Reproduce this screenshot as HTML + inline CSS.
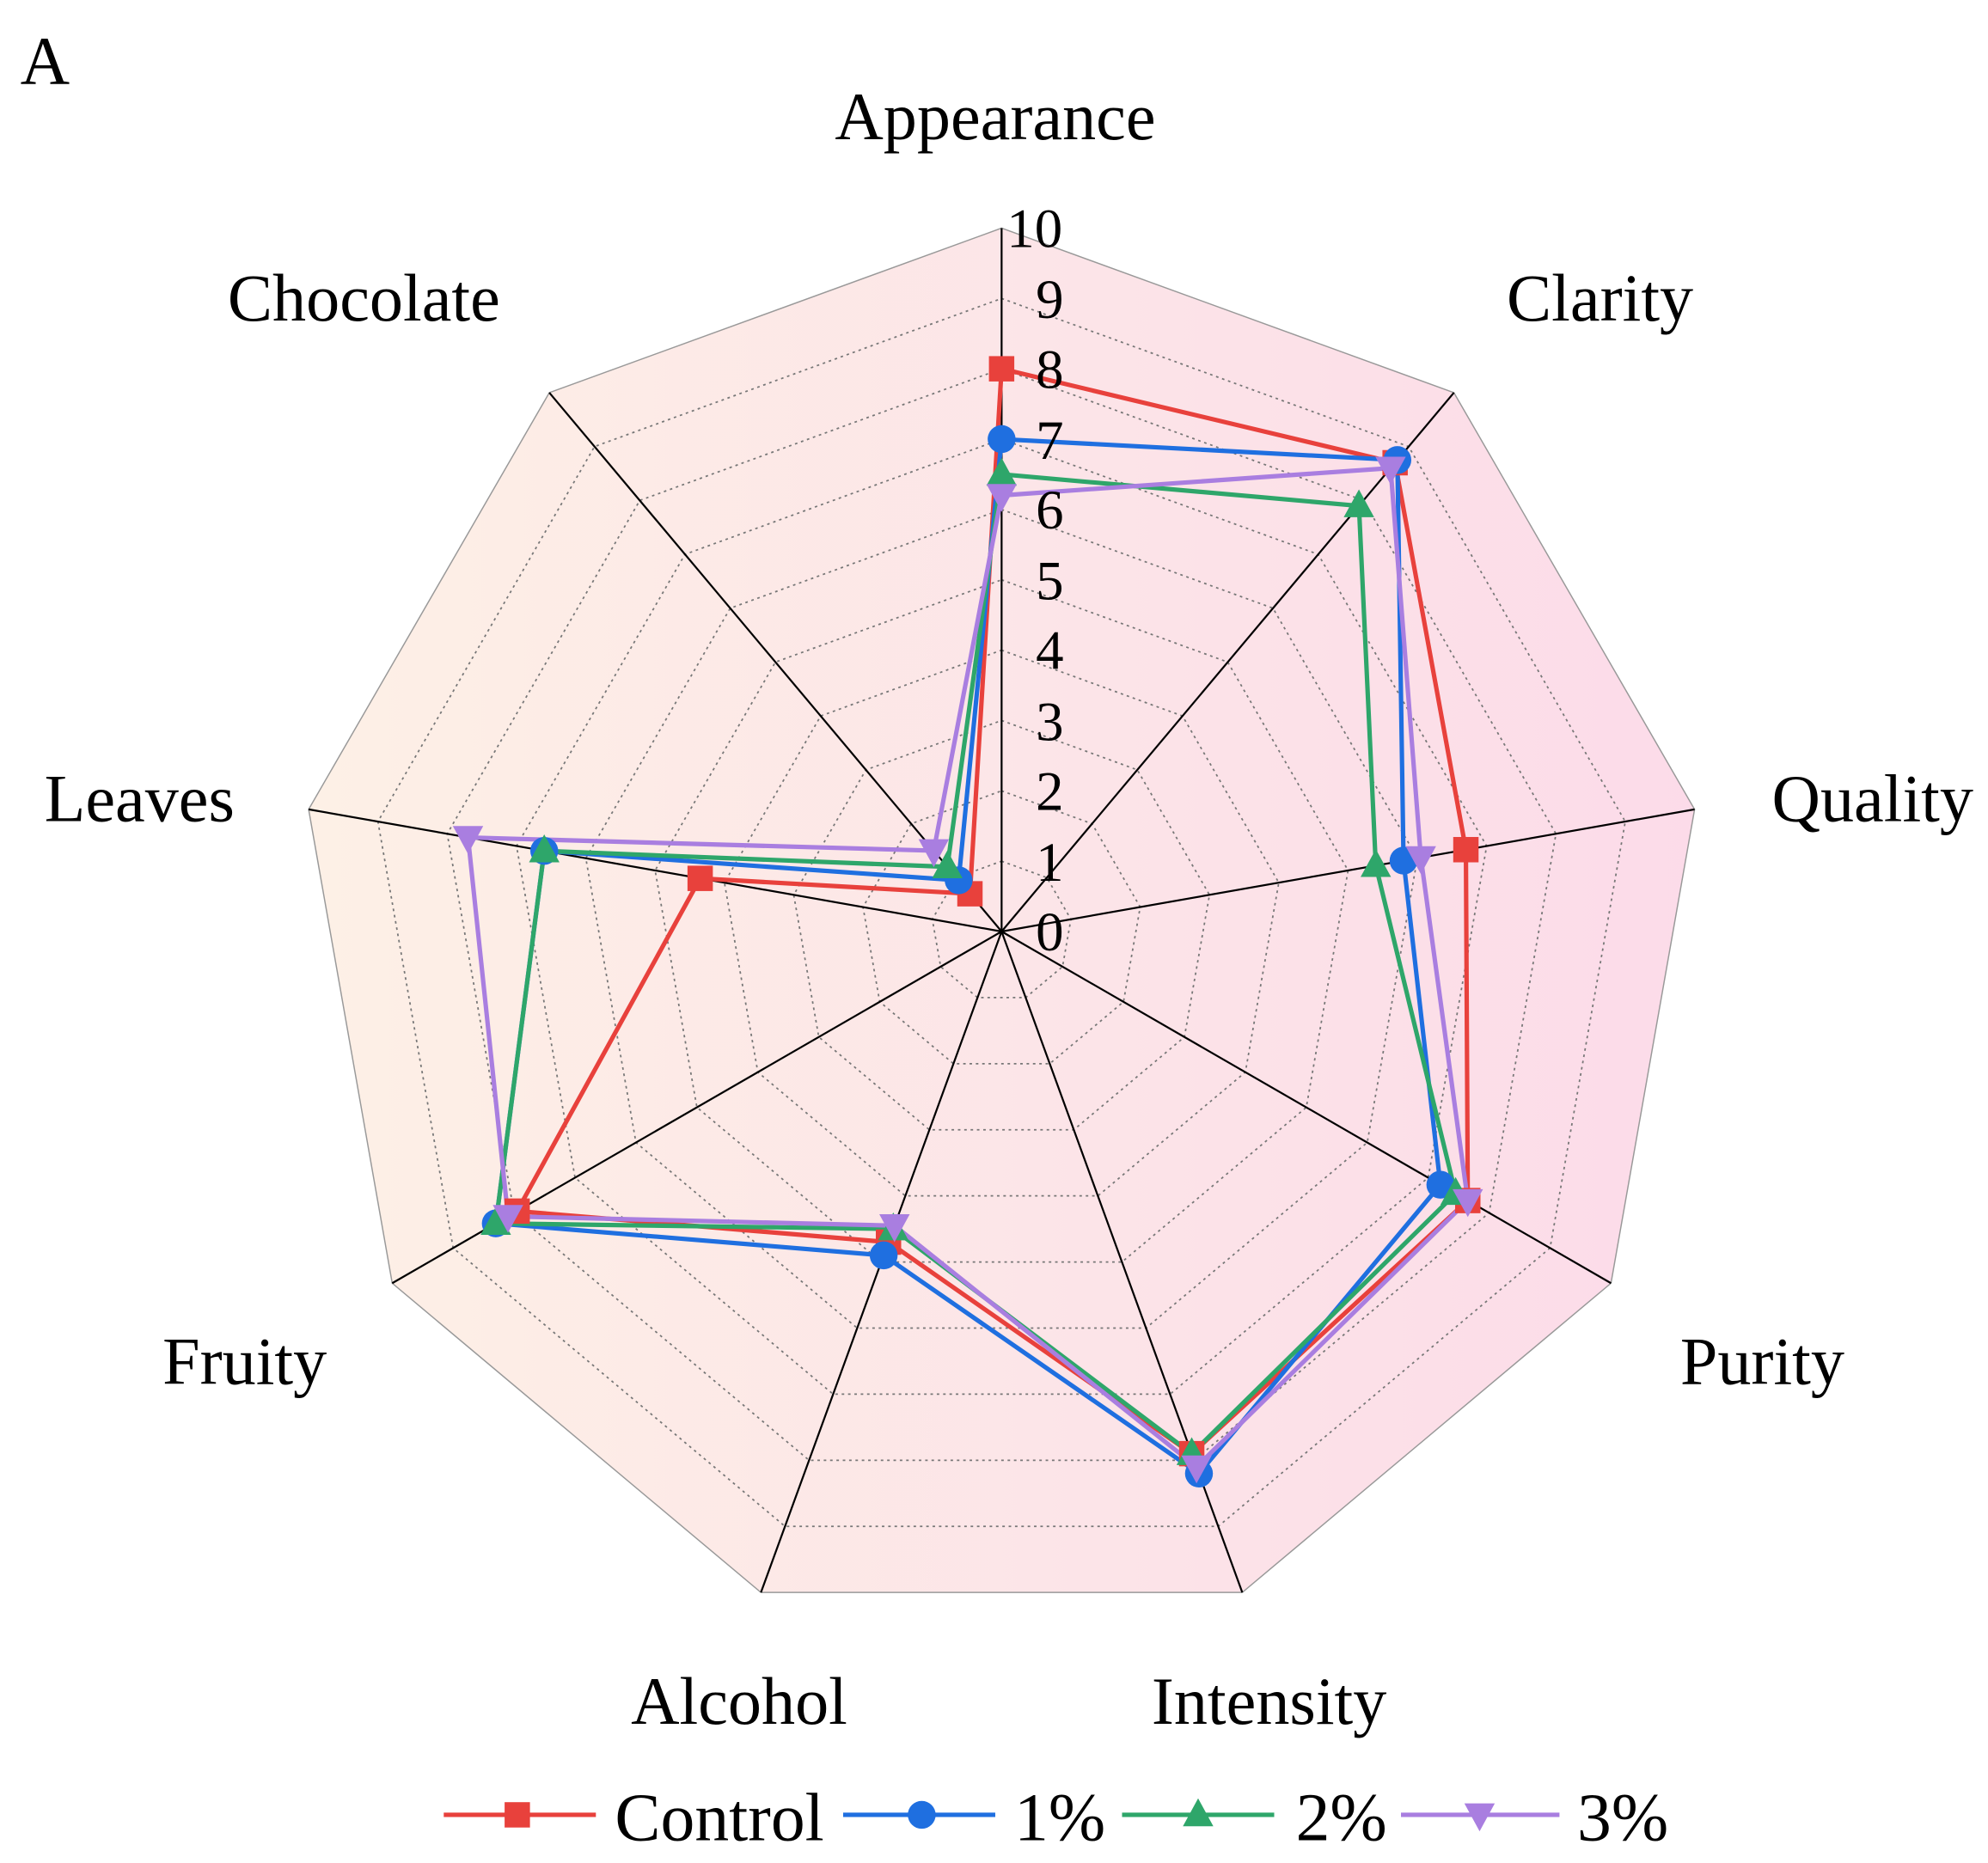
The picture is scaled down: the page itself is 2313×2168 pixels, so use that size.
<!DOCTYPE html>
<html><head><meta charset="utf-8"><style>
html,body{margin:0;padding:0;background:#fff;}
svg{display:block;}
text{font-family:"Liberation Serif",serif;fill:#000;}
</style></head><body>
<svg id="s" width="2313" height="2168" viewBox="0 0 1568 1470" preserveAspectRatio="none" xmlns="http://www.w3.org/2000/svg">
<defs>
<linearGradient id="bg" x1="240" y1="0" x2="1340" y2="0" gradientUnits="userSpaceOnUse">
<stop offset="0" stop-color="#fdf0e6"/><stop offset="1" stop-color="#fcdbe9"/>
</linearGradient>
</defs>
<g id="grid"></g>
<g id="series"></g>
<text x="16" y="66" font-size="54">A</text>
<g font-size="53" text-anchor="middle">
<text x="785" y="110">Appearance</text>
<text x="1262" y="253">Clarity</text>
<text x="1477" y="648">Quality</text>
<text x="1390" y="1092">Purity</text>
<text x="1001" y="1360">Intensity</text>
<text x="583" y="1360">Alcohol</text>
<text x="193" y="1092">Fruity</text>
<text x="110" y="648">Leaves</text>
<text x="287" y="253">Chocolate</text>
</g>
<g font-size="44" text-anchor="middle">
<text x="828" y="750">0</text><text x="828" y="695">1</text><text x="828" y="639">2</text>
<text x="828" y="584">3</text><text x="828" y="528">4</text><text x="828" y="473">5</text>
<text x="828" y="417">6</text><text x="828" y="362">7</text><text x="828" y="306">8</text>
<text x="828" y="251">9</text><text x="816" y="195">10</text>
</g>
<g font-size="54">
<text x="485" y="1452">Control</text>
<text x="800" y="1452">1%</text>
<text x="1022" y="1452">2%</text>
<text x="1244" y="1452">3%</text>
</g>
<g id="legend"></g>
</svg>
<script>
var cx=790,cy=735,R=55.5,NS="http://www.w3.org/2000/svg";
function pt(i,v){var a=i*40*Math.PI/180;return [cx+R*v*Math.sin(a),cy-R*v*Math.cos(a)];}
function el(t,at,p){var e=document.createElementNS(NS,t);for(var k in at)e.setAttribute(k,at[k]);p.appendChild(e);return e;}
var g=document.getElementById('grid');
function poly(v){var s=[];for(var i=0;i<9;i++)s.push(pt(i,v).join(','));return s.join(' ');}
el('polygon',{points:poly(10),fill:'url(#bg)',stroke:'#999','stroke-width':1},g);
for(var k=1;k<10;k++)el('polygon',{points:poly(k),fill:'none',stroke:'#777','stroke-width':1.2,'stroke-dasharray':'2,3'},g);
for(var i=0;i<9;i++){var p=pt(i,10);el('line',{x1:cx,y1:cy,x2:p[0],y2:p[1],stroke:'#000','stroke-width':1.5},g);}
var data=[
 {c:'#e8413c',m:'sq',v:[8.0,8.7,6.7,7.65,7.9,4.7,7.95,4.35,0.7]},
 {c:'#1f6fe0',m:'ci',v:[7.0,8.75,5.8,7.2,8.2,4.9,8.3,6.6,0.95]},
 {c:'#2ea66a',m:'tu',v:[6.5,7.9,5.4,7.45,7.9,4.5,8.3,6.6,1.2]},
 {c:'#a97ee0',m:'td',v:[6.2,8.6,6.05,7.65,8.1,4.45,8.1,7.7,1.5]}];
var sg=document.getElementById('series');
function marker(m,x,y,c,p){
 if(m=='sq')el('rect',{x:x-10,y:y-10,width:20,height:20,fill:c},p);
 else if(m=='ci')el('circle',{cx:x,cy:y,r:11,fill:c},p);
 else if(m=='tu')el('polygon',{points:(x-12)+','+(y+9)+' '+(x+12)+','+(y+9)+' '+x+','+(y-13),fill:c},p);
 else el('polygon',{points:(x-12)+','+(y-9)+' '+(x+12)+','+(y-9)+' '+x+','+(y+13),fill:c},p);
}
data.forEach(function(d){
 var s=[];for(var i=0;i<9;i++)s.push(pt(i,d.v[i]).join(','));
 el('polygon',{points:s.join(' '),fill:'none',stroke:d.c,'stroke-width':3.5,'stroke-linejoin':'round'},sg);
});
data.forEach(function(d){for(var i=0;i<9;i++){var p=pt(i,d.v[i]);marker(d.m,p[0],p[1],d.c,sg);}});
var lg=document.getElementById('legend'),lx=[[350,470,408],[665,785,727],[885,1005,945],[1105,1230,1167]];
data.forEach(function(d,j){var L=lx[j];el('line',{x1:L[0],y1:1432,x2:L[1],y2:1432,stroke:d.c,'stroke-width':3.5},lg);marker(d.m,L[2],1432,d.c,lg);});
</script>
</body></html>
